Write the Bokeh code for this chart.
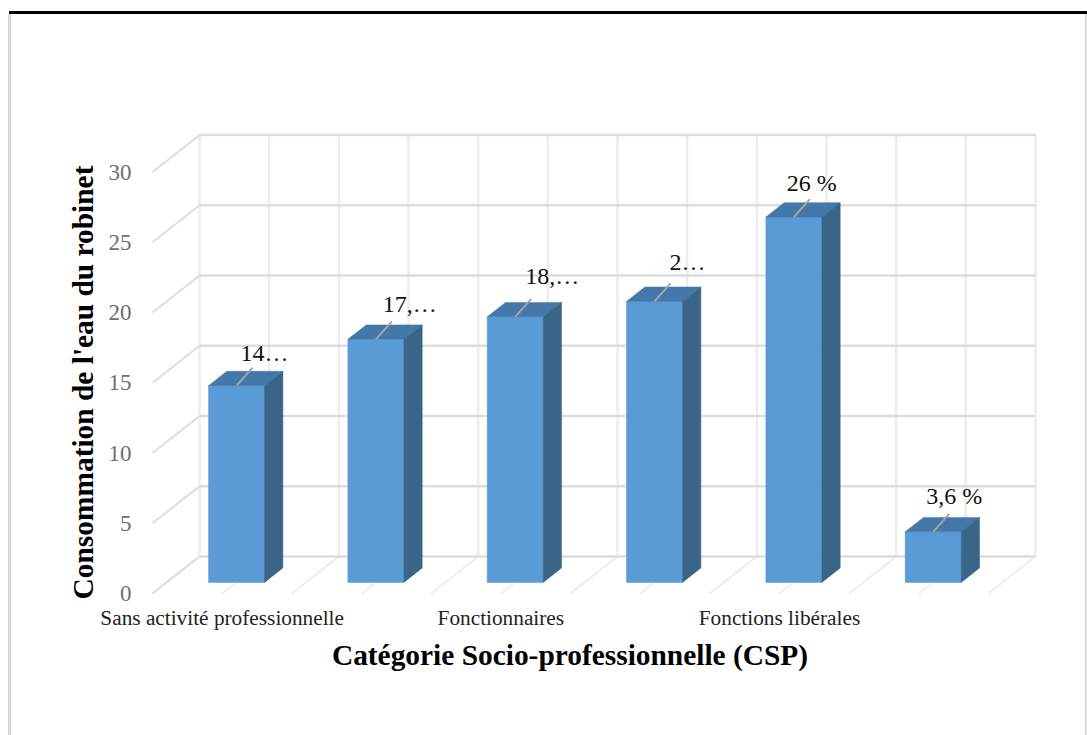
from bokeh.embed import file_html
from bokeh.resources import INLINE
from bokeh.models import ColumnDataSource, FixedTicker, Range1d
from bokeh.plotting import figure
from bokeh.core.properties import value

SERIF = "Liberation Serif"

# Series values (%), their printed labels, and the three category names shown
values = [14.0, 17.3, 18.9, 20.0, 26.0, 3.6]
value_labels = ["14…", "17,…", "18,…", "2…", "26 %", "3,6 %"]
category_labels = ["Sans activité professionnelle", "Fonctionnaires", "Fonctions libérales"]
y_ticks = [0, 5, 10, 15, 20, 25, 30]

# Pixel offsets of the value labels from the top edge of their bar
label_dx = [28, 34, 37, 33, 18, 21]
label_dy = [33, 35, 41, 39, 34, 36]

# Oblique projection: depth 0 is the front plane, depth 1 the back wall
PX_PER_CAT = 139.33
PX_PER_UNIT = 14.05
DEPTH_X = 47 / PX_PER_CAT
DEPTH_Y = 37 / PX_PER_UNIT
N_CATS = len(values)
WALL_TOP = 30

# The plot frame runs past the front plane on the left and below, so the axis
# titles centre on the chart body and the tick labels sit inside the frame.
LEFT, RIGHT, TOP, BOTTOM = 99, 1040, 130, 634
FRONT_X0 = 152
FRONT_Y0 = 593


def project(x, v, d):
    return x + DEPTH_X * d, v + DEPTH_Y * d


def seg(a, b):
    return [a[0], b[0]], [a[1], b[1]]


# Page rules are painted behind a transparent figure border
page_rules = ("linear-gradient(#000,#000) 9px 11px / 1078px 3px no-repeat,"
              "linear-gradient(#D9D9D9,#D9D9D9) 8px 14px / 3px 721px no-repeat,"
              "linear-gradient(#D9D9D9,#D9D9D9) 1085px 14px / 2px 721px no-repeat")

p = figure(
    width=1087, height=735, output_backend="svg", toolbar_location=None,
    x_range=Range1d((LEFT - FRONT_X0) / PX_PER_CAT, (RIGHT - FRONT_X0) / PX_PER_CAT),
    y_range=Range1d((FRONT_Y0 - BOTTOM) / PX_PER_UNIT, (FRONT_Y0 - TOP) / PX_PER_UNIT),
    min_border_left=LEFT, min_border_right=1087 - RIGHT, min_border_top=TOP, min_border_bottom=735 - BOTTOM,
    background_fill_color=None, border_fill_color=None, outline_line_color=None,
    styles={"background": page_rules},
)
p.grid.visible = False

# Back wall and floor: vertical rules, then depth rules, then horizontal rules
half_steps = [i / 2 for i in range(2 * N_CATS + 1)]
for h in half_steps:
    xs, ys = seg(project(h, 0, 1), project(h, WALL_TOP, 1))
    p.line(xs, ys, line_color="#EDEDED", line_width=2.5)
    xs, ys = seg(project(h, 0, 0), project(h, 0, 1))
    p.line(xs, ys, line_color="#EDEDED", line_width=2)
for t in y_ticks:
    xs, ys = seg(project(0, t, 0), project(0, t, 1))
    p.line(xs, ys, line_color="#DDDDDD", line_width=2)
    xs, ys = seg(project(0, t, 1), project(N_CATS, t, 1))
    p.line(xs, ys, line_color="#DDDDDD", line_width=2.5)

# Bars as three faces: front, top, right side
D_FRONT, D_BACK = 0.30, 0.69
HALF_W = 0.201
CENTRE = 0.502
for i, v in enumerate(values):
    cx = i + CENTRE
    l, r = cx - HALF_W, cx + HALF_W
    fl0 = project(l, 0, D_FRONT)
    fr0 = project(r, 0, D_FRONT)
    fl1 = project(l, v, D_FRONT)
    fr1 = project(r, v, D_FRONT)
    bl1 = project(l, v, D_BACK)
    br1 = project(r, v, D_BACK)
    br0 = project(r, 0, D_BACK)
    faces = [([fl0, fr0, fr1, fl1], "#5B9BD5"),
             ([fl1, fr1, br1, bl1], "#4478A8"),
             ([fr0, br0, br1, fr1], "#3A6488")]
    for pts, colour in faces:
        p.patch([q[0] for q in pts], [q[1] for q in pts], fill_color=colour, line_color=colour, line_width=0.5)
    # Leader from the front edge of the bar top towards its label
    a = project(cx, v, D_FRONT)
    b = (a[0] + 16 / PX_PER_CAT, a[1] + 18 / PX_PER_UNIT)
    xs, ys = seg(a, b)
    p.line(xs, ys, line_color="#A6A6A6", line_width=2)

# Value labels
tops = [project(i + CENTRE, v, D_FRONT) for i, v in enumerate(values)]
src = ColumnDataSource(dict(
    x=[q[0] for q in tops], y=[q[1] for q in tops], text=value_labels,
    dx=label_dx, dy=[-d for d in label_dy],
))
p.text("x", "y", text="text", source=src, x_offset="dx", y_offset="dy",
       text_font=value(SERIF), text_font_size="24px", text_color="#111111",
       text_align="center", text_baseline="middle")

# Axes: tick labels pulled inwards with a negative standoff
p.yaxis.ticker = FixedTicker(ticks=y_ticks)
p.yaxis.axis_line_color = None
p.yaxis.major_tick_line_color = None
p.yaxis.minor_tick_line_color = None
p.yaxis.major_label_text_font = SERIF
p.yaxis.major_label_text_font_size = "23px"
p.yaxis.major_label_text_color = "#6E6E6E"
p.yaxis.major_label_standoff = -38
p.yaxis.axis_label = "Consommation de l'eau du robinet"
p.yaxis.axis_label_text_font = SERIF
p.yaxis.axis_label_text_font_size = "29.4px"
p.yaxis.axis_label_text_font_style = "bold"
p.yaxis.axis_label_text_color = "black"
p.yaxis.axis_label_standoff = 7

p.xaxis.ticker = FixedTicker(ticks=[0.5, 2.5, 4.5])
p.xaxis.major_label_overrides = {0.5: category_labels[0], 2.5: category_labels[1], 4.5: category_labels[2]}
p.xaxis.axis_line_color = None
p.xaxis.major_tick_line_color = None
p.xaxis.minor_tick_line_color = None
p.xaxis.major_label_text_font = SERIF
p.xaxis.major_label_text_font_size = "21.3px"
p.xaxis.major_label_text_color = "#222222"
p.xaxis.major_label_standoff = -35
p.xaxis.axis_label = "Catégorie Socio-professionnelle (CSP)"
p.xaxis.axis_label_text_font = SERIF
p.xaxis.axis_label_text_font_size = "29.4px"
p.xaxis.axis_label_text_font_style = "bold"
p.xaxis.axis_label_text_color = "black"
p.xaxis.axis_label_standoff = 6

open("out.html", "w").write(file_html(p, INLINE))
